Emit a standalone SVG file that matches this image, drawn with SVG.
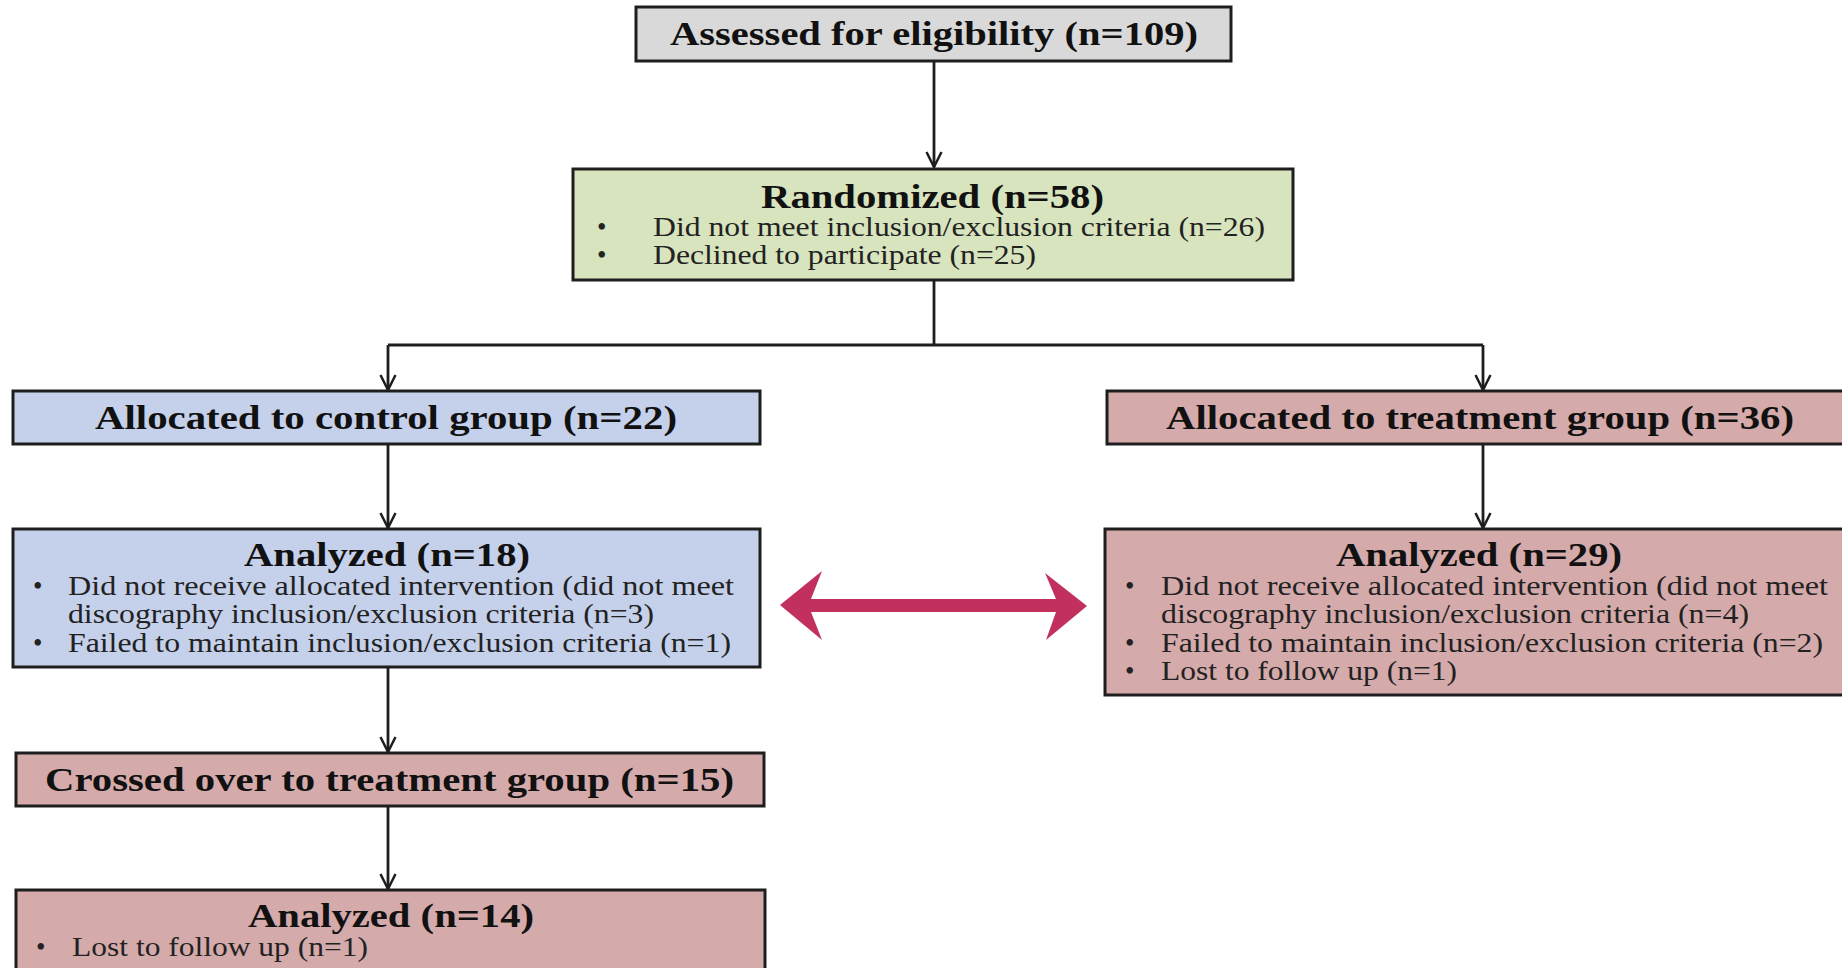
<svg xmlns="http://www.w3.org/2000/svg" width="1842" height="968" viewBox="0 0 1842 968">
<style>
.box{stroke:#1e1e1e;stroke-width:3}
.gray{fill:#d9d9d9}.green{fill:#d8e4bd}.blue{fill:#c5d0ea}.pink{fill:#d5aaab}
.t{font-family:"Liberation Serif","Times New Roman",serif;font-weight:bold;font-size:33px;fill:#111}
.b{font-family:"Liberation Serif","Times New Roman",serif;font-size:27px;fill:#222}
.c{stroke:#1e1e1e;stroke-width:2.8;fill:none}
</style>
<defs>
<marker id="ah" markerWidth="18" markerHeight="18" refX="16" refY="9" orient="auto" markerUnits="userSpaceOnUse" viewBox="0 0 18 18">
<path d="M1,1.5 L16,9 L1,16.5" fill="none" stroke="#1e1e1e" stroke-width="2.5"/>
</marker>
</defs>
<rect width="1842" height="968" fill="#fff"/>
<g id="connectors">
<line class="c" x1="934" y1="61" x2="934" y2="167" marker-end="url(#ah)"/>
<path class="c" d="M934,280 V345 M388,345 H1483"/>
<line class="c" x1="388" y1="345" x2="388" y2="390" marker-end="url(#ah)"/>
<line class="c" x1="1483" y1="345" x2="1483" y2="390" marker-end="url(#ah)"/>
<line class="c" x1="388" y1="444" x2="388" y2="528" marker-end="url(#ah)"/>
<line class="c" x1="1483" y1="444" x2="1483" y2="528" marker-end="url(#ah)"/>
<line class="c" x1="388" y1="667" x2="388" y2="752" marker-end="url(#ah)"/>
<line class="c" x1="388" y1="806" x2="388" y2="889" marker-end="url(#ah)"/>
<path id="double-arrow" d="M780,605 L822,571 L811,599 L1056,599 L1045,573 L1087,606 L1046,640 L1056,612 L811,612 L822,640 Z" fill="#c2305e"/>
</g>
<g id="assessed">
<rect class="box gray" x="636" y="7" width="595" height="54"/>
<text class="t" x="670" y="45" textLength="528" lengthAdjust="spacingAndGlyphs">Assessed  for eligibility (n=109)</text>
</g>
<g id="randomized">
<rect class="box green" x="573" y="169" width="720" height="111"/>
<text class="t" x="761" y="208" textLength="343" lengthAdjust="spacingAndGlyphs">Randomized (n=58)</text>
<text class="b" x="597" y="236">•</text>
<text class="b" x="653" y="236" textLength="612" lengthAdjust="spacingAndGlyphs">Did not meet inclusion/exclusion criteria (n=26)</text>
<text class="b" x="597" y="264">•</text>
<text class="b" x="653" y="264" textLength="383" lengthAdjust="spacingAndGlyphs">Declined to participate (n=25)</text>
</g>
<g id="alloc-control">
<rect class="box blue" x="13" y="391" width="747" height="53"/>
<text class="t" x="95" y="429" textLength="582" lengthAdjust="spacingAndGlyphs">Allocated to control group (n=22)</text>
</g>
<g id="alloc-treatment">
<rect class="box pink" x="1107" y="391" width="745" height="53"/>
<text class="t" x="1166" y="429" textLength="628" lengthAdjust="spacingAndGlyphs">Allocated to treatment group (n=36)</text>
</g>
<g id="analyzed-control">
<rect class="box blue" x="13" y="529" width="747" height="138"/>
<text class="t" x="244" y="566" textLength="286" lengthAdjust="spacingAndGlyphs">Analyzed (n=18)</text>
<text class="b" x="33" y="595">•</text>
<text class="b" x="68" y="595" textLength="666" lengthAdjust="spacingAndGlyphs">Did not receive allocated intervention  (did not meet</text>
<text class="b" x="68" y="623" textLength="586" lengthAdjust="spacingAndGlyphs">discography inclusion/exclusion criteria (n=3)</text>
<text class="b" x="33" y="652">•</text>
<text class="b" x="68" y="652" textLength="663" lengthAdjust="spacingAndGlyphs">Failed to maintain inclusion/exclusion criteria (n=1)</text>
</g>
<g id="analyzed-treatment">
<rect class="box pink" x="1105" y="529" width="747" height="166"/>
<text class="t" x="1336" y="566" textLength="286" lengthAdjust="spacingAndGlyphs">Analyzed (n=29)</text>
<text class="b" x="1125" y="595">•</text>
<text class="b" x="1161" y="595" textLength="667" lengthAdjust="spacingAndGlyphs">Did not receive allocated intervention  (did not meet</text>
<text class="b" x="1161" y="623" textLength="588" lengthAdjust="spacingAndGlyphs">discography inclusion/exclusion criteria (n=4)</text>
<text class="b" x="1125" y="652">•</text>
<text class="b" x="1161" y="652" textLength="662" lengthAdjust="spacingAndGlyphs">Failed to maintain inclusion/exclusion criteria (n=2)</text>
<text class="b" x="1125" y="680">•</text>
<text class="b" x="1161" y="680" textLength="296" lengthAdjust="spacingAndGlyphs">Lost to follow up (n=1)</text>
</g>
<g id="crossed">
<rect class="box pink" x="16" y="753" width="748" height="53"/>
<text class="t" x="45" y="791" textLength="689" lengthAdjust="spacingAndGlyphs">Crossed  over to treatment group (n=15)</text>
</g>
<g id="analyzed-crossed">
<rect class="box pink" x="16" y="890" width="749" height="90"/>
<text class="t" x="248" y="927" textLength="286" lengthAdjust="spacingAndGlyphs">Analyzed (n=14)</text>
<text class="b" x="36" y="956">•</text>
<text class="b" x="72" y="956" textLength="296" lengthAdjust="spacingAndGlyphs">Lost to follow up (n=1)</text>
</g>
</svg>
